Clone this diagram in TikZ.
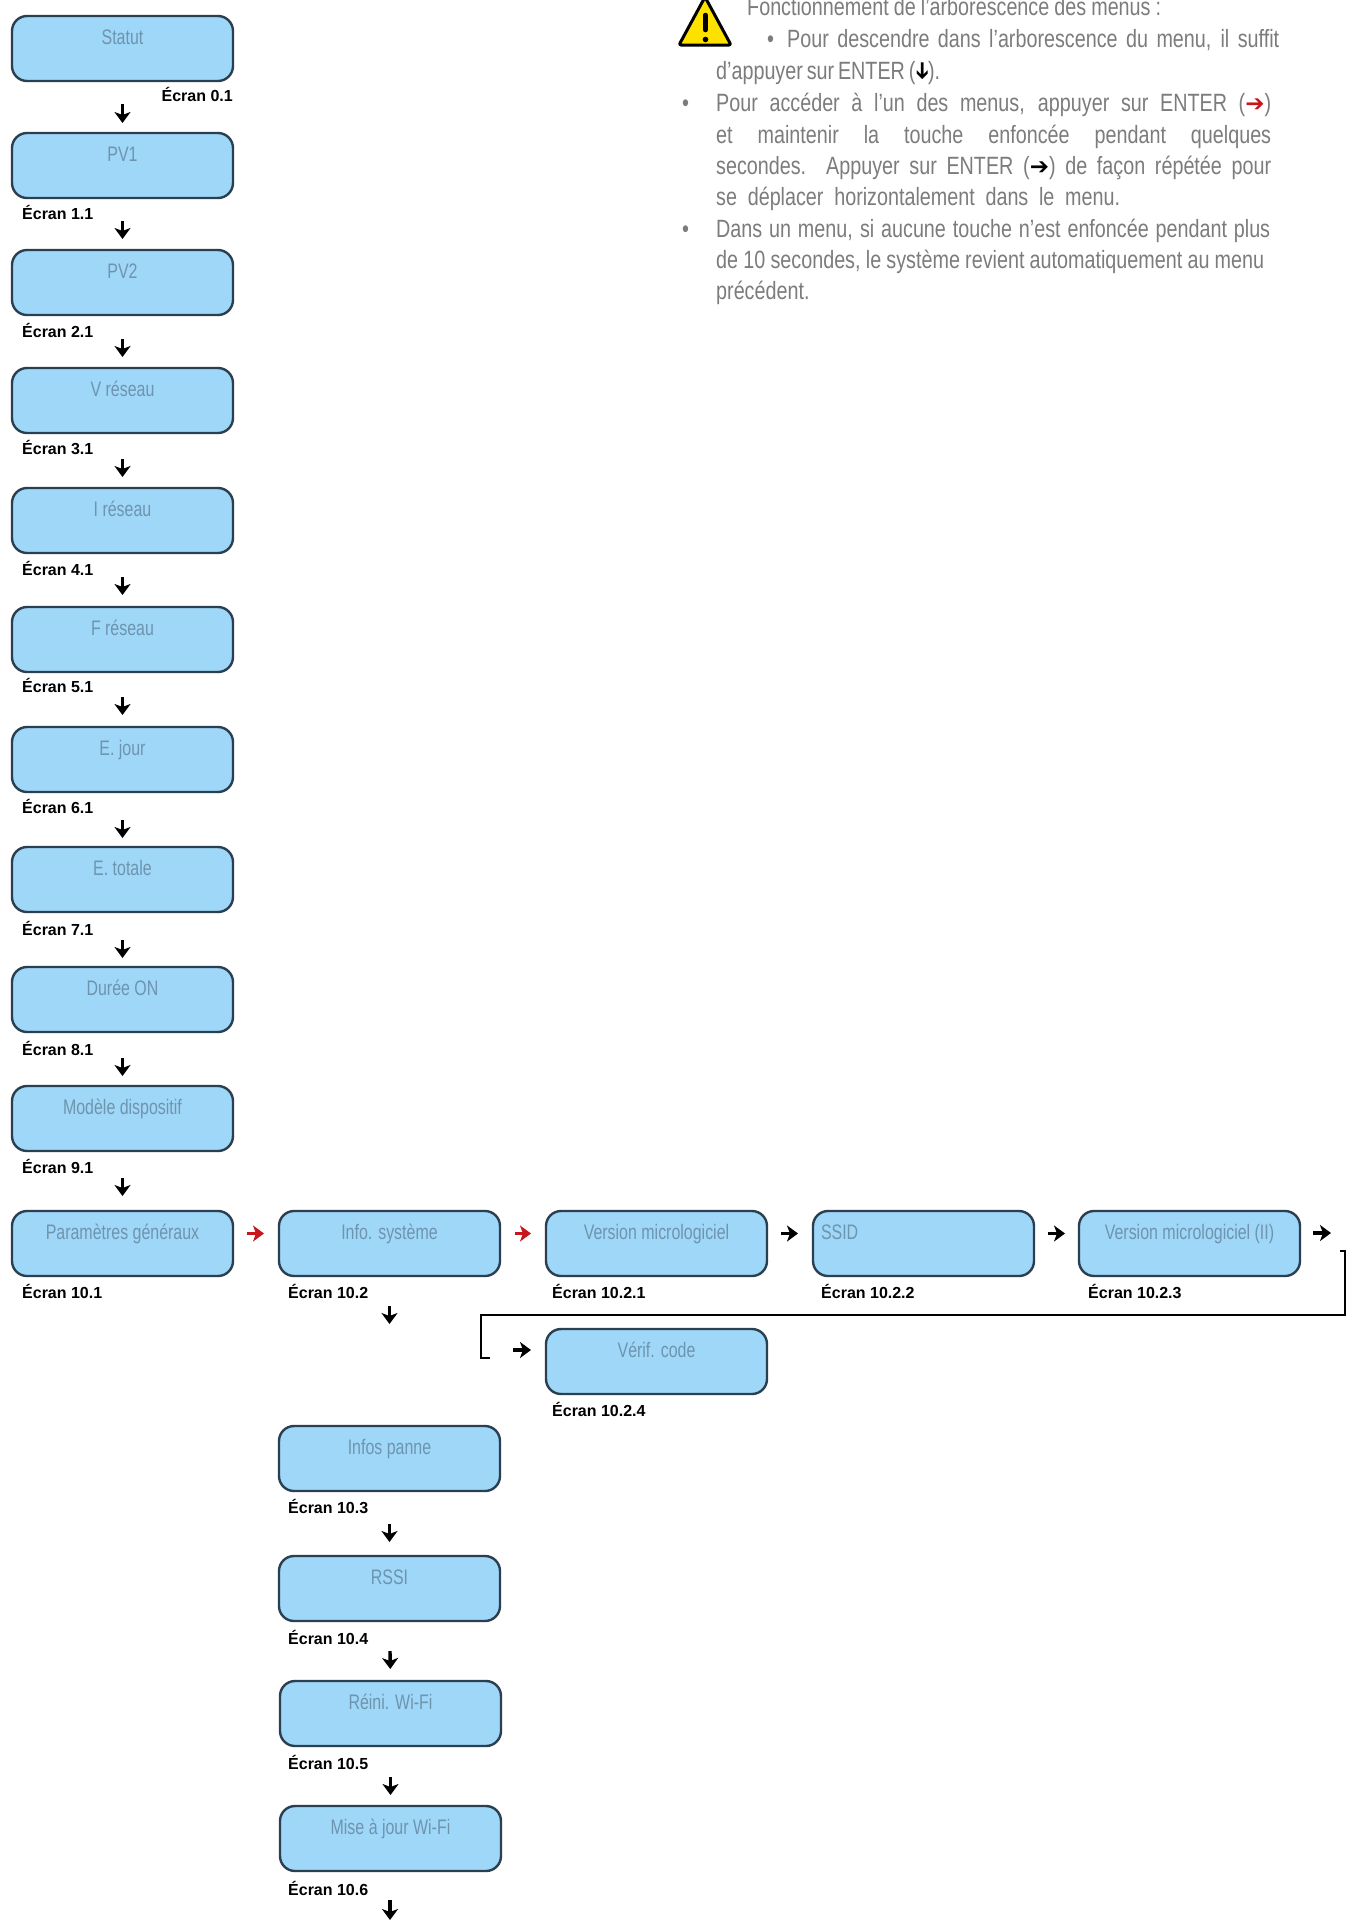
\documentclass[tikz,border=0pt]{standalone}
\usepackage{fontspec}
\usetikzlibrary{arrows.meta}
\setmainfont{Liberation Sans}
\newfontfamily\condf[FakeStretch=0.76]{Liberation Sans}
\newfontfamily\paraf[FakeStretch=0.79]{Liberation Sans}
\newfontfamily\dvf{DejaVu Sans}
\definecolor{boxfill}{HTML}{9FD7F8}
\definecolor{boxline}{HTML}{2A3F50}
\definecolor{boxtext}{HTML}{6E94AE}
\definecolor{paratext}{HTML}{7C7C7C}
\definecolor{arrred}{HTML}{C8161D}
\definecolor{warny}{HTML}{FFE100}
\tikzset{
  menubox/.style={draw=boxline,fill=boxfill,line width=2.4pt,rounded corners=15pt,anchor=north west,
    minimum height=65pt,inner sep=0pt,outer sep=0pt,text=boxtext,font=\condf\fontsize{21}{24}\selectfont},
  scrlabel/.style={anchor=west,inner sep=0pt,font=\bfseries\fontsize{16}{18}\selectfont,text=black},
  arr/.style={line width=3.4pt,draw=black,-{Stealth[length=11pt,width=16pt,inset=3pt]}},
  redarr/.style={arr,draw=arrred,-{Stealth[length=11pt,width=16pt,inset=3pt,color=arrred]}},
  elbow/.style={line width=2.5pt,draw=black,line cap=butt},
  paraline/.style={anchor=base west,inner sep=0pt,text=paratext,font=\paraf\fontsize{25}{31}\selectfont},
}
\newcommand{\BX}[5]{\node[menubox,minimum width=#4pt] (#1) at (#2,#3) {\smash{\raisebox{4.5pt}{#5}}};}
\newcommand{\VA}[4]{\draw[arr,shorten <=#3pt,shorten >=#4pt] (#1.south) -- (#2.north);}
\newcommand{\HA}[5][arr]{\draw[#1,shorten <=#4pt,shorten >=#5pt] ([yshift=10pt]#2.east) -- ([yshift=10pt]#3.west);}
\newcommand{\dnarr}{\raisebox{2pt}{\rotatebox[origin=c]{-90}{\dvf\fontsize{23}{23}\selectfont\textcolor{black}{➔}}}}
\newcommand{\rtarr}[1]{\textcolor{#1}{\dvf\fontsize{23}{23}\selectfont ➔}}
\begin{document}
\begin{tikzpicture}[x=1pt,y=-1pt]
\useasboundingbox (0,0) rectangle (1356,1923);
\fill[white] (0,0) rectangle (1356,1923);
% first column
\BX{a0}{12}{16}{221}{Statut}
\BX{a1}{12}{133}{221}{PV1}
\BX{a2}{12}{250}{221}{PV2}
\BX{a3}{12}{368}{221}{V réseau}
\BX{a4}{12}{488}{221}{I réseau}
\BX{a5}{12}{607}{221}{F réseau}
\BX{a6}{12}{727}{221}{E. jour}
\BX{a7}{12}{847}{221}{E. totale}
\BX{a8}{12}{967}{221}{Durée ON}
\BX{a9}{12}{1086}{221}{Modèle dispositif}
\BX{a10}{12}{1211}{221}{Paramètres généraux}
% row
\BX{b2}{279}{1211}{221}{Info. système}
\BX{c1}{546}{1211}{221}{Version micrologiciel}
\BX{c2}{813}{1211}{221}{\makebox[205pt][l]{SSID}}
\BX{c3}{1079}{1211}{221}{Version micrologiciel (II)}
\BX{c4}{546}{1329}{221}{Vérif. code}
% second column
\BX{b3}{279}{1426}{221}{Infos panne}
\BX{b4}{279}{1556}{221}{RSSI}
\BX{b5}{280}{1681}{221}{Réini. Wi-Fi}
\BX{b6}{280}{1806}{221}{Mise à jour Wi-Fi}
% labels
\node[scrlabel,anchor=east] (l0) at (233,94) {Écran 0.1};
\node[scrlabel] (l1) at (22,212) {Écran 1.1};
\node[scrlabel] (l2) at (22,330) {Écran 2.1};
\node[scrlabel] (l3) at (22,447) {Écran 3.1};
\node[scrlabel] (l4) at (22,568) {Écran 4.1};
\node[scrlabel] (l5) at (22,685) {Écran 5.1};
\node[scrlabel] (l6) at (22,806) {Écran 6.1};
\node[scrlabel] (l7) at (22,928) {Écran 7.1};
\node[scrlabel] (l8) at (22,1048) {Écran 8.1};
\node[scrlabel] (l9) at (22,1166) {Écran 9.1};
\node[scrlabel] (l10) at (22,1291) {Écran 10.1};
\node[scrlabel] (l102) at (288,1291) {Écran 10.2};
\node[scrlabel] (l1021) at (552,1291) {Écran 10.2.1};
\node[scrlabel] (l1022) at (821,1291) {Écran 10.2.2};
\node[scrlabel] (l1023) at (1088,1291) {Écran 10.2.3};
\node[scrlabel] (l1024) at (552,1409) {Écran 10.2.4};
\node[scrlabel] (l103) at (288,1506) {Écran 10.3};
\node[scrlabel] (l104) at (288,1637) {Écran 10.4};
\node[scrlabel] (l105) at (288,1762) {Écran 10.5};
\node[scrlabel] (l106) at (288,1888) {Écran 10.6};
% vertical arrows
\VA{a0}{a1}{23}{10}
\VA{a1}{a2}{23}{11}
\VA{a2}{a3}{24}{11}
\VA{a3}{a4}{26}{11}
\VA{a4}{a5}{24}{12}
\VA{a5}{a6}{25}{12}
\VA{a6}{a7}{28}{9}
\VA{a7}{a8}{28}{9}
\VA{a8}{a9}{26}{10}
\VA{a9}{a10}{27}{15}
\VA{b2}{b3}{30}{102}
\VA{b3}{b4}{33}{14}
\VA{b4}{b5}{30}{12}
\VA{b5}{b6}{31}{11}
% horizontal arrows
\HA[redarr]{a10}{b2}{14}{15}
\HA[redarr]{b2}{c1}{15}{15}
\HA{c1}{c2}{14}{15}
\HA{c2}{c3}{14}{14}
\coordinate (o1) at (1313,1233);
\coordinate (o2) at (1331,1233);
\draw[arr] (o1) -- (o2);
% elbow connector
\coordinate (r1) at (1340,1251);
\coordinate (r2) at (481,1358);
\coordinate (r3) at (490,1358);
\draw[elbow] (r1) -- (1345,1251) -- (1345,1315) -- (481,1315) -- (r2) -- (r3);
\coordinate (v1) at (513,1350);
\draw[arr,shorten >=15pt] (v1) -- (v1-|c4.west);
\coordinate (e1) at (390,1900);
\coordinate (e2) at (390,1920);
\draw[arr] (e1) -- (e2);
% warning sign
\draw[fill=warny,draw=black,line width=3pt,line join=round,rounded corners=2pt] (705,-3) -- (731,45) -- (679,45) -- cycle;
\draw[black,line width=4.5pt,line cap=round] (705.5,15) -- (705.5,30);
\fill[black] (705.5,39.5) circle (2.8pt);
% paragraph
\node[paraline] (p0) at (747,15) {\makebox[414pt][s]{Fonctionnement de l’arborescence des menus :}};
\node[paraline] (b1) at (767,47) {•};
\node[paraline] (p1) at (787,47) {\makebox[492pt][s]{Pour descendre dans l’arborescence du menu, il suffit}};
\node[paraline] (p2) at (716,79) {\makebox[224pt][s]{d’appuyer sur ENTER (\dnarr).}};
\node[paraline] (b2p) at (682,111) {•};
\node[paraline] (p3) at (716,111) {\makebox[555pt][s]{Pour accéder à l’un des menus, appuyer sur ENTER (\rtarr{arrred})}};
\node[paraline] (p4) at (716,143) {\makebox[555pt][s]{et maintenir la touche enfoncée pendant quelques}};
\node[paraline] (p5) at (716,174) {\makebox[555pt][s]{secondes. Appuyer sur ENTER (\rtarr{black}) de façon répétée pour}};
\node[paraline] (p6) at (716,205) {\makebox[404pt][s]{se déplacer horizontalement dans le menu.}};
\node[paraline] (b3p) at (682,237) {•};
\node[paraline] (p7) at (716,237) {\makebox[554pt][s]{Dans un menu, si aucune touche n’est enfoncée pendant plus}};
\node[paraline] (p8) at (716,268) {\makebox[548pt][s]{de 10 secondes, le système revient automatiquement au menu}};
\node[paraline] (p9) at (716,299) {\makebox[94pt][s]{précédent.}};
\end{tikzpicture}
\end{document}
